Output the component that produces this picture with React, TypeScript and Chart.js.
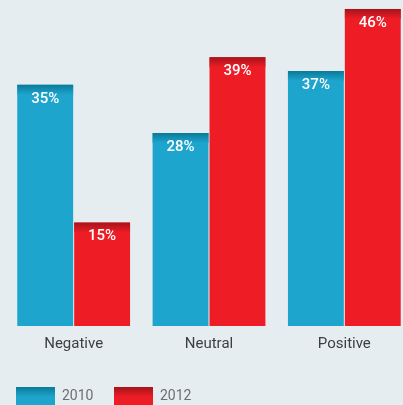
import React, { useEffect, useRef } from "react";
import { Chart, registerables } from "chart.js";

Chart.register(...registerables);

const categories = ["Negative", "Neutral", "Positive"];
const seriesLabels = ["2010", "2012"];
const values2010 = [35, 28, 37];
const values2012 = [15, 39, 46];

const BG = "#e5edf1";
const COLORS = ["#1ea5ce", "#ee1c25"];
const DARK = ["#0a7a98", "#a5141b"];

const overlayPlugin = {
  id: "overlay",
  afterDatasetsDraw(chart: any) {
    const ctx = chart.ctx;
    chart.data.datasets.forEach((ds: any, di: number) => {
      const meta = chart.getDatasetMeta(di);
      meta.data.forEach((bar: any, i: number) => {
        const { x, y, width } = bar;
        const left = x - width / 2;
        const g = ctx.createLinearGradient(0, y, 0, y + 10);
        g.addColorStop(0, DARK[di]);
        g.addColorStop(1, COLORS[di]);
        ctx.save();
        ctx.fillStyle = g;
        ctx.fillRect(left, y, width, 10);
        ctx.fillStyle = "#ffffff";
        ctx.font = "500 15px Roboto";
        ctx.textAlign = "center";
        ctx.textBaseline = "middle";
        ctx.fillText(ds.data[i] + "%", x, y + 14);
        ctx.restore();
      });
    });
  },
  afterDraw(chart: any) {
    const ctx = chart.ctx;
    const starts = [16, 114];
    chart.data.datasets.forEach((ds: any, di: number) => {
      const bx = starts[di];
      const by = 387;
      const g = ctx.createLinearGradient(0, by, 0, by + 10);
      g.addColorStop(0, DARK[di]);
      g.addColorStop(1, COLORS[di]);
      ctx.save();
      ctx.fillStyle = g;
      ctx.fillRect(bx, by, 39, 20);
      ctx.fillStyle = "#6b6f72";
      ctx.font = "14px Roboto";
      ctx.textAlign = "left";
      ctx.textBaseline = "middle";
      ctx.fillText(ds.label, bx + 46, by + 9);
      ctx.restore();
    });
  },
};

export default function App() {
  const ref = useRef<HTMLCanvasElement | null>(null);
  useEffect(() => {
    document.body.style.margin = "0";
    document.body.style.background = BG;
    const chart = new Chart(ref.current as HTMLCanvasElement, {
      type: "bar",
      data: {
        labels: categories,
        datasets: [
          { label: seriesLabels[0], data: values2010, backgroundColor: COLORS[0] },
          { label: seriesLabels[1], data: values2012, backgroundColor: COLORS[1] },
        ],
      },
      options: {
        animation: false,
        responsive: true,
        maintainAspectRatio: false,
        layout: { padding: { left: 6, right: 8, top: 0, bottom: 43 } },
        datasets: {
          bar: { categoryPercentage: 0.841, barPercentage: 0.982 },
        },
        plugins: { legend: { display: false }, tooltip: { enabled: false } },
        scales: {
          x: {
            grid: { display: false, drawTicks: false },
            border: { display: false },
            ticks: {
              color: "#3c3f42",
              font: { family: "Roboto", size: 15 },
              padding: 9,
            },
          },
          y: { display: false, min: 0, max: 47.3 },
        },
      },
      plugins: [overlayPlugin],
    });
    return () => chart.destroy();
  }, []);
  return (
    <div style={{ width: 403, height: 405, overflow: "hidden", background: BG }}>
      <div style={{ width: 420, height: 405, position: "relative" }}>
        <canvas ref={ref} />
      </div>
    </div>
  );
}
